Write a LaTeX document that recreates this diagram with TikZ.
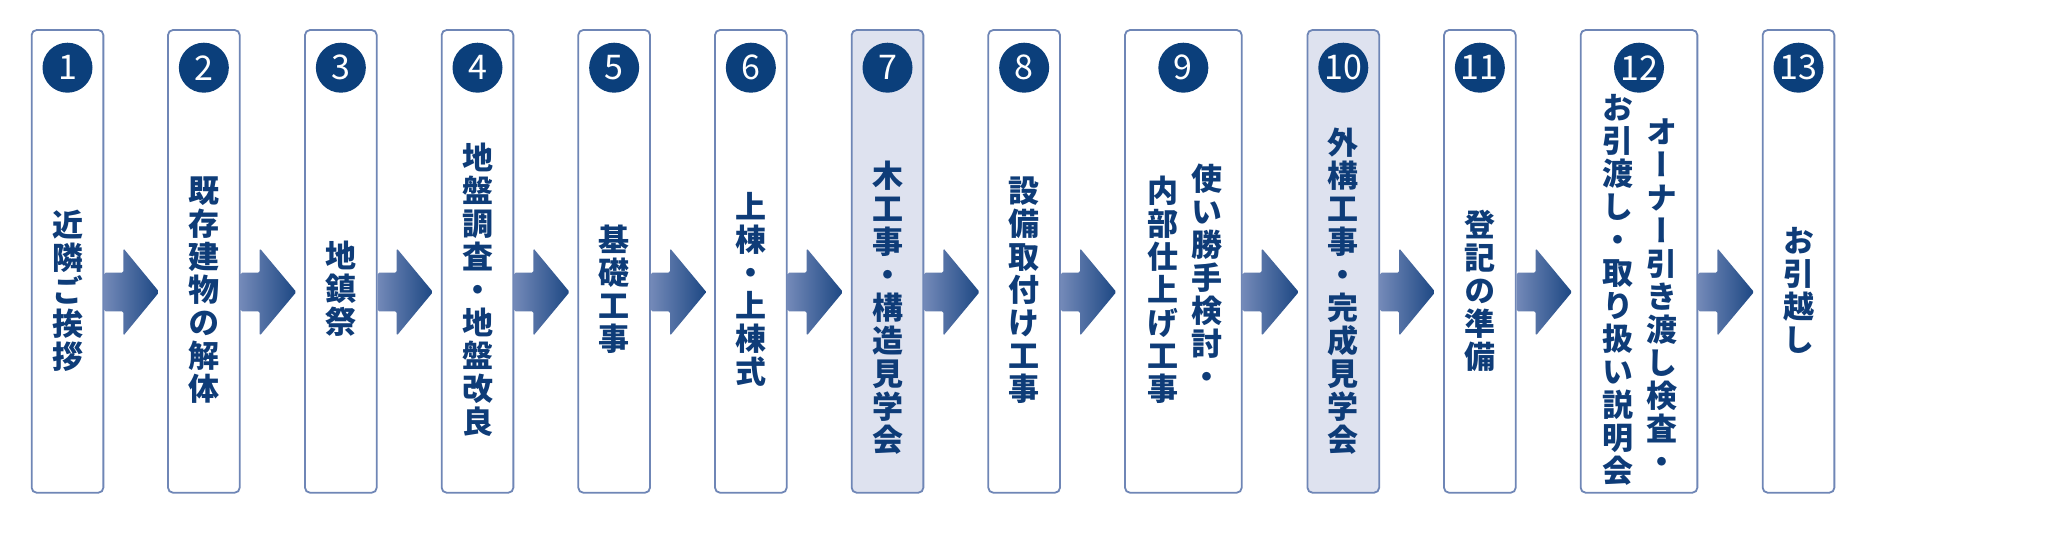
\documentclass[tikz,border=0pt]{standalone}
\usepackage{fontspec}
\newfontfamily\jpfont[RawFeature=+vert]{Noto Sans CJK JP}
\newfontfamily\numfont{Noto Sans CJK JP}
\usetikzlibrary{calc}
\definecolor{boxline}{HTML}{6F86B6}
\definecolor{hlfill}{HTML}{DEE2EF}
\definecolor{navy}{HTML}{0B3F7B}
\definecolor{txt}{HTML}{0E3C78}
\definecolor{arrL}{HTML}{7389B8}
\definecolor{arrR}{HTML}{1C4783}
\newcommand\flowarrow[2]{%
  \shade[left color=arrL, right color=arrR, rounded corners=1.5pt]
    let \p1=(#1.east), \p2=(#2.west) in
    (\x1+0.9pt,-272.7pt) -- (\x1+20pt,-272.7pt) -- (\x1+20pt,-248.3pt)
    -- (\x2-8.7pt,-292pt) -- (\x1+20pt,-335.7pt) -- (\x1+20pt,-311.3pt)
    -- (\x1+0.9pt,-311.3pt) -- cycle;}
\begin{document}
\begin{tikzpicture}[x=1pt,y=-1pt,
  stepbox/.style={draw=boxline, line width=1.8pt, rounded corners=5pt, fill=white,
    minimum width=71.7pt, minimum height=462.7pt, inner sep=0pt, outer sep=0pt},
  widebox/.style={stepbox, minimum width=116.7pt},
  hlbox/.style={fill=hlfill},
  numcirc/.style={circle, fill=navy, minimum size=50pt, inner sep=0pt, text=white,
    font=\numfont\fontsize{34}{34}\selectfont},
  vtxt/.style={text=txt, align=center, inner sep=0pt,
    font=\jpfont\bfseries\fontsize{31}{33}\selectfont},
]
\fill[white] (0,0) rectangle (2048,549);
\useasboundingbox (0,0) rectangle (2048,549);

% boxes
\node[stepbox] (b1) at (67.5,261.35) {};
\node[stepbox] (b2) at (203.85,261.35) {};
\node[stepbox] (b3) at (340.85,261.35) {};
\node[stepbox] (b4) at (477.5,261.35) {};
\node[stepbox] (b5) at (614.15,261.35) {};
\node[stepbox] (b6) at (750.85,261.35) {};
\node[stepbox,hlbox] (b7) at (887.5,261.35) {};
\node[stepbox] (b8) at (1024.15,261.35) {};
\node[widebox] (b9) at (1183.35,261.35) {};
\node[stepbox,hlbox] (b10) at (1343.3,261.35) {};
\node[stepbox] (b11) at (1479.85,261.35) {};
\node[widebox] (b12) at (1639,261.35) {};
\node[stepbox] (b13) at (1798.5,261.35) {};

% numbers
\node[numcirc] (n1) at (67.5,67.7) {1};
\node[numcirc] (n2) at (203.85,67.7) {2};
\node[numcirc] (n3) at (340.85,67.7) {3};
\node[numcirc] (n4) at (477.5,67.7) {4};
\node[numcirc] (n5) at (614.15,67.7) {5};
\node[numcirc] (n6) at (750.85,67.7) {6};
\node[numcirc] (n7) at (887.5,67.7) {7};
\node[numcirc] (n8) at (1024.15,67.7) {8};
\node[numcirc] (n9) at (1183.35,67.7) {9};
\node[numcirc] (n10) at (1343.3,67.7) {10};
\node[numcirc] (n11) at (1479.85,67.7) {11};
\node[numcirc] (n12) at (1639,67.7) {12};
\node[numcirc] (n13) at (1798.5,67.7) {13};

% texts
\node[vtxt] (t1) at (67.5,291) {近\\隣\\ご\\挨\\拶};
\node[vtxt] (t2) at (203.85,290) {既\\存\\建\\物\\の\\解\\体};
\node[vtxt] (t3) at (340.85,289) {地\\鎮\\祭};
\node[vtxt] (t4) at (477.5,290) {地\\盤\\調\\査\\・\\地\\盤\\改\\良};
\node[vtxt] (t5) at (614.15,289) {基\\礎\\工\\事};
\node[vtxt] (t6) at (750.85,289) {上\\棟\\・\\上\\棟\\式};
\node[vtxt] (t7) at (887.5,308) {木\\工\\事\\・\\構\\造\\見\\学\\会};
\node[vtxt] (t8) at (1024.15,290) {設\\備\\取\\付\\け\\工\\事};
\node[vtxt] (t9a) at (1206.7,276) {使\\い\\勝\\手\\検\\討\\・};
\node[vtxt] (t9b) at (1163.3,290) {内\\部\\仕\\上\\げ\\工\\事};
\node[vtxt] (t10) at (1343.3,291) {外\\構\\工\\事\\・\\完\\成\\見\\学\\会};
\node[vtxt] (t11) at (1479.85,291) {登\\記\\の\\準\\備};
\node[vtxt] (t12a) at (1661.7,296) {オ\\ー\\ナ\\ー\\引\\き\\渡\\し\\検\\査\\・};
\node[vtxt] (t12b) at (1618.3,290) {お\\引\\渡\\し\\・\\取\\り\\扱\\い\\説\\明\\会};
\node[vtxt] (t13) at (1798.5,290) {お\\引\\越\\し};

% connectors
\flowarrow{b1}{b2}
\flowarrow{b2}{b3}
\flowarrow{b3}{b4}
\flowarrow{b4}{b5}
\flowarrow{b5}{b6}
\flowarrow{b6}{b7}
\flowarrow{b7}{b8}
\flowarrow{b8}{b9}
\flowarrow{b9}{b10}
\flowarrow{b10}{b11}
\flowarrow{b11}{b12}
\flowarrow{b12}{b13}
\end{tikzpicture}
\end{document}
